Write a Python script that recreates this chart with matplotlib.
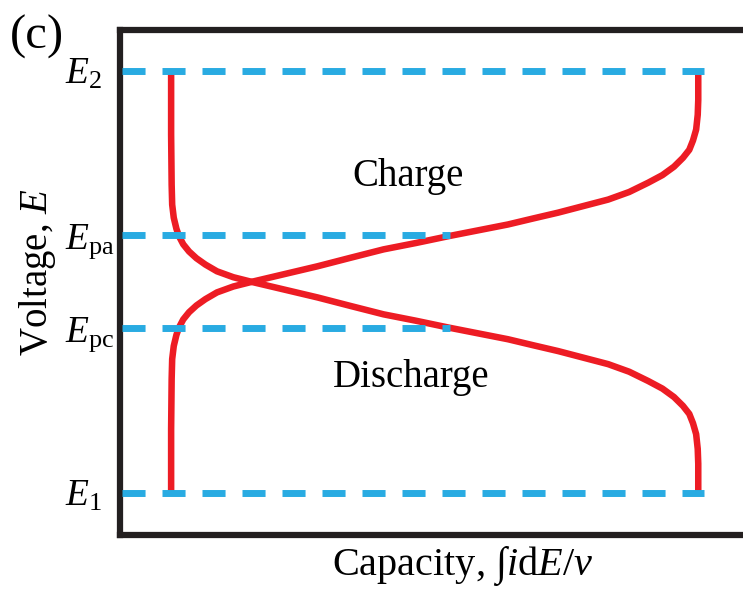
import matplotlib
matplotlib.use('Agg')
import matplotlib.pyplot as plt

plt.rcParams['font.family'] = ['Liberation Serif', 'DejaVu Serif']
plt.rcParams['mathtext.fontset'] = 'custom'
plt.rcParams['mathtext.rm'] = 'Liberation Serif'
plt.rcParams['mathtext.it'] = 'Liberation Serif:italic'
plt.rcParams['lines.scale_dashes'] = False

# 전위 기준선 (E1 < Epc < Epa < E2)
level_names = [r'$E_{1}$', r'$E_\mathrm{pc}$', r'$E_\mathrm{pa}$', r'$E_{2}$']
level_E = [0.0, 0.39, 0.61, 1.0]
level_end = [1.01, 0.529, 0.529, 1.01]   # 점선이 끝나는 용량 위치

# 충전 곡선 (용량, 전압)
charge_q = [0.0, 0.0, 0.001, 0.002, 0.005, 0.010, 0.015, 0.023, 0.034, 0.048,
            0.065, 0.087, 0.118, 0.156, 0.217, 0.278, 0.340, 0.403, 0.464,
            0.525, 0.582, 0.639, 0.686, 0.734, 0.783, 0.829, 0.869, 0.905,
            0.932, 0.954, 0.971, 0.983, 0.990, 0.996, 0.999, 1.0, 1.0]
charge_E = [0.0, 0.151, 0.270, 0.317, 0.348, 0.374, 0.392, 0.411, 0.428, 0.444,
            0.459, 0.475, 0.489, 0.501, 0.519, 0.537, 0.557, 0.577, 0.592,
            0.608, 0.622, 0.636, 0.650, 0.664, 0.680, 0.695, 0.713, 0.735,
            0.753, 0.773, 0.794, 0.813, 0.835, 0.861, 0.896, 0.931, 1.0]

# 방전 곡선 (용량, 전압)
discharge_q = [0.0, 0.0, 0.001, 0.002, 0.005, 0.010, 0.015, 0.023, 0.034, 0.048,
               0.065, 0.087, 0.118, 0.156, 0.217, 0.278, 0.340, 0.403, 0.464,
               0.525, 0.582, 0.639, 0.686, 0.734, 0.783, 0.829, 0.869, 0.905,
               0.932, 0.954, 0.971, 0.983, 0.990, 0.996, 0.999, 1.0, 1.0]
discharge_E = [1.0, 0.849, 0.730, 0.683, 0.652, 0.626, 0.608, 0.589, 0.572, 0.556,
               0.541, 0.525, 0.511, 0.499, 0.481, 0.463, 0.443, 0.423, 0.408,
               0.392, 0.378, 0.364, 0.350, 0.336, 0.320, 0.305, 0.287, 0.265,
               0.247, 0.227, 0.206, 0.187, 0.165, 0.139, 0.104, 0.069, 0.0]

RED = '#ED1C24'
BLUE = '#29ABE2'
FRAME = '#231F20'

fig = plt.figure(figsize=(7.43, 5.90), dpi=100)
ax = fig.add_axes([0.1615, 0.0932, 0.84, 0.8560])
ax.set_xlim(-0.097, 1.087)
ax.set_ylim(-0.1, 1.097)

ax.plot(charge_q, charge_E, color=RED, lw=4.7, solid_capstyle='butt',
        solid_joinstyle='round', zorder=2)
ax.plot(discharge_q, discharge_E, color=RED, lw=4.7, solid_capstyle='butt',
        solid_joinstyle='round', zorder=2)

for name, e, end in zip(level_names, level_E, level_end):
    ax.plot([-0.093, end], [e, e], color=BLUE, lw=5, dashes=(16.6, 12.2),
            dash_capstyle='butt', zorder=3)
    ax.text(-0.2015, e - 0.031, name, fontsize=27, ha='left', va='baseline',
            clip_on=False)

ax.text(0.449, 0.727, 'Charge', fontsize=28, ha='center', va='baseline')
ax.text(0.456, 0.251, 'Discharge', fontsize=28, ha='center', va='baseline')

for side in ['left', 'top', 'bottom']:
    ax.spines[side].set_linewidth(4.5)
    ax.spines[side].set_color(FRAME)
ax.spines['right'].set_visible(False)
ax.set_xticks([])
ax.set_yticks([])

fig.text(10 / 743, 1 - 49 / 590, '(c)', fontsize=35, ha='left', va='baseline')
fig.text(38 / 743, 1 - 272 / 590, r'Voltage, $E$', fontsize=28, rotation=90,
         ha='center', va='center')
fig.text(463 / 743, 1 - 575 / 590, r'Capacity, ∫$i$d$E$/$v$', fontsize=29,
         ha='center', va='baseline')

fig.savefig('out.png', dpi=100)
